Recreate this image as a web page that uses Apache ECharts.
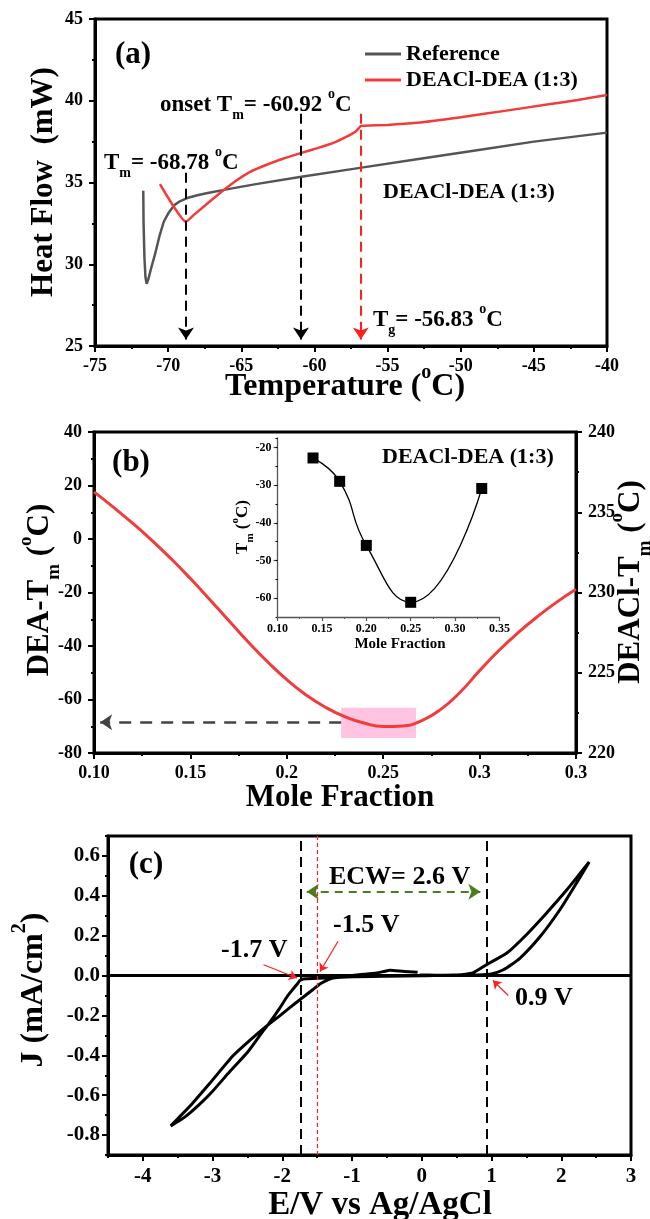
<!DOCTYPE html>
<html>
<head>
<meta charset="utf-8">
<script src="https://cdn.jsdelivr.net/npm/echarts@6/dist/echarts.min.js"></script>
<style>html,body{margin:0;padding:0;background:#fff}#main{width:650px;height:1219px}</style>
</head>
<body>
<div id="main"></div>
<script>
// (a) DSC 曲线
var refT  = [-71.70, -71.68, -71.62, -71.55, -71.47, -71.35, -71.15, -70.9, -70.6, -70.3, -70.0, -69.6, -69.2, -68.7, -68.0, -67.3, -66.0, -64.0, -61.0, -57.0, -53.0, -49.0, -45.0, -40.0];
var refHF = [34.5, 32.5, 30.4, 29.2, 28.8, 29.1, 29.8, 30.6, 31.7, 32.6, 33.1, 33.6, 33.85, 34.05, 34.22, 34.36, 34.58, 34.9, 35.33, 35.88, 36.42, 36.96, 37.5, 38.05];
var mixT  = [-70.56, -68.78, -68.2, -67.4, -66.5, -65.5, -64.4, -63.4, -62.3, -61.0, -59.8, -58.7, -57.8, -57.2, -56.83, -56.6, -55.0, -53.0, -50.0, -47.0, -44.0, -42.0, -40.0];
var mixHF = [34.9, 32.6, 33.05, 33.65, 34.33, 35.02, 35.65, 36.04, 36.41, 36.78, 37.1, 37.42, 37.8, 38.1, 38.45, 38.47, 38.52, 38.65, 38.99, 39.38, 39.78, 40.05, 40.35];
var aMarks = [-68.78, -60.92, -56.83];

// (b) 相图
var bX = [0.10, 0.11, 0.12, 0.13, 0.14, 0.15, 0.16, 0.17, 0.18, 0.19, 0.20, 0.21, 0.22, 0.23, 0.24, 0.25, 0.26, 0.27, 0.28, 0.29, 0.30, 0.31, 0.32, 0.33, 0.34, 0.35];
var bY = [17.6, 11.9, 5.9, -0.5, -7.4, -14.8, -22.6, -30.6, -38.5, -45.9, -52.6, -58.3, -62.9, -66.4, -68.8, -70.1, -69.9, -67.9, -63.6, -57.2, -49.2, -41.7, -35.0, -29.0, -23.6, -18.8];
var bXLabels = ['0.10', '0.15', '0.2', '0.25', '0.3', '0.3'];
var insX = [0.14, 0.17, 0.20, 0.25, 0.33];
var insY = [-22.8, -29.0, -46.0, -61.1, -30.9];

// (c) CV 曲线
var cvE = [-0.06, -0.25, -0.456, -0.55, -0.647, -0.9, -1.1, -1.27, -1.5, -1.70, -1.75, -1.78, -1.84, -1.93, -2.05, -2.18, -2.28, -2.5, -2.75, -3.0, -3.2, -3.4, -3.6,
           -3.45, -3.3, -3.04, -2.70, -2.45, -2.25, -2.03, -1.8, -1.56, -1.45, -1.34, -1.27, -1.0, -0.5, 0.0, 0.45, 0.7, 0.98, 1.17, 1.41, 1.70, 1.98, 2.22, 2.40,
           2.08, 1.79, 1.50, 1.22, 0.93, 0.74, 0.6, 0.45, 0.2, -0.03];
var cvJ = [0.017, 0.02, 0.027, 0.02, 0.013, 0.004, -0.004, -0.010, -0.014, -0.017, -0.025, -0.04, -0.065, -0.105, -0.17, -0.235, -0.28, -0.385, -0.48, -0.58, -0.65, -0.71, -0.754,
           -0.70, -0.645, -0.54, -0.40, -0.32, -0.26, -0.20, -0.135, -0.07, -0.04, -0.02, -0.012, -0.006, -0.003, -0.001, 0.003, 0.003, 0.007, 0.029, 0.088, 0.197, 0.33, 0.465, 0.57,
           0.43, 0.314, 0.205, 0.113, 0.055, 0.015, 0.006, 0.003, 0.002, 0.003];
var cXTicks = [-4, -3, -2, -1, 0, 1, 2, 3];
var cYTicks = [-0.8, -0.6, -0.4, -0.2, 0, 0.2, 0.4, 0.6];
var cMarks = [-1.74, -1.5, 0.93];

var FONT = '"Liberation Serif", "Times New Roman", serif';
var RED = '#f23b3b';

function zip(a, b) {
  return a.map(function (v, i) { return [v, b[i]]; });
}

// 公共坐标轴样式
function axis(o) {
  var base = {
    type: 'value',
    splitLine: { show: false },
    axisLine: { show: true, onZero: false, lineStyle: { color: '#000', width: 3 } },
    axisTick: { show: true, inside: false, length: 6, lineStyle: { color: '#000', width: 2 } },
    minorTick: { show: true, splitNumber: 2, length: 3, lineStyle: { color: '#000', width: 2 } },
    axisLabel: { color: '#000', fontFamily: FONT, fontWeight: 'bold', fontSize: 18, margin: 11 }
  };
  for (var k in o) {
    if (typeof o[k] === 'object' && base[k] && !Array.isArray(o[k])) {
      base[k] = Object.assign({}, base[k], o[k]);
    } else {
      base[k] = o[k];
    }
  }
  return base;
}

function rich(s) {
  var small = Math.round(s * 0.62);
  return {
    n: { fontFamily: FONT, fontWeight: 'bold', fontSize: s, lineHeight: Math.round(s * 1.5), fill: '#000' },
    sub: { fontFamily: FONT, fontWeight: 'bold', fontSize: small, verticalAlign: 'bottom', lineHeight: small, fill: '#000' },
    sup: { fontFamily: FONT, fontWeight: 'bold', fontSize: small, verticalAlign: 'top', lineHeight: small, fill: '#000' }
  };
}
function txt(x, y, text, size, rot, align) {
  return {
    type: 'text', x: x, y: y, rotation: rot || 0, z: 100,
    style: { text: text, rich: rich(size), align: align || 'left', verticalAlign: 'middle',
      fontFamily: FONT, fontWeight: 'bold', fontSize: size, fill: '#000' }
  };
}

function arrowLine(p1, p2, color, width, dash, size) {
  return [
    { coord: p1, symbol: 'none', lineStyle: { color: color, width: width, type: dash } },
    { coord: p2, symbol: 'arrow', symbolSize: size }
  ];
}

var chart = echarts.init(document.getElementById('main'));
var option = {
  backgroundColor: '#fff',
  animation: false,
  grid: [
    { left: 95, top: 19, width: 512, height: 327, show: true, borderColor: '#000', borderWidth: 3 },
    { left: 94, top: 432, width: 482, height: 321, show: true, borderColor: '#000', borderWidth: 3 },
    { left: 277.5, top: 438, width: 222, height: 179 },
    { left: 108, top: 836, width: 523, height: 319, show: true, borderColor: '#000', borderWidth: 3 }
  ],
  legend: {
    data: ['Reference', 'DEACl-DEA (1:3)'],
    orient: 'vertical', left: 360, top: 38, itemWidth: 36, itemHeight: 3, itemGap: 4, icon: 'rect',
    textStyle: { fontFamily: FONT, fontWeight: 'bold', fontSize: 22, color: '#000' }
  },
  xAxis: [
    axis({ gridIndex: 0, min: -75, max: -40, interval: 5 }),
    axis({ gridIndex: 1, min: 0.10, max: 0.35, interval: 0.05,
      axisLabel: { formatter: function (v) { return bXLabels[Math.round((v - 0.1) / 0.05)]; } } }),
    axis({ gridIndex: 2, min: 0.10, max: 0.35, interval: 0.05,
      axisLine: { lineStyle: { width: 1.3 } }, axisTick: { length: 4, lineStyle: { width: 1.2 } },
      minorTick: { length: 2, lineStyle: { width: 1 } },
      axisLabel: { fontSize: 12, margin: 6, formatter: function (v) { return v.toFixed(2); } } }),
    axis({ gridIndex: 3, min: -4.5, max: 3, minorTick: { show: false },
      axisTick: { customValues: cXTicks }, axisLabel: { customValues: cXTicks, fontSize: 21 } }),
    axis({ gridIndex: 3, position: 'bottom', min: -4.5, max: 3, interval: 0.5, minorTick: { show: false },
      axisLine: { show: false }, axisLabel: { show: false }, axisTick: { length: 3 } })
  ],
  yAxis: [
    axis({ gridIndex: 0, min: 25, max: 45, interval: 5, axisLabel: { margin: 12 } }),
    axis({ gridIndex: 1, position: 'left', min: -80, max: 40, interval: 20, axisLabel: { margin: 12 } }),
    axis({ gridIndex: 1, position: 'right', min: 220, max: 240, interval: 5, axisLabel: { margin: 12 } }),
    axis({ gridIndex: 2, position: 'left', min: -65, max: -17.5, minorTick: { show: false },
      axisLine: { lineStyle: { width: 1.3 } }, axisTick: { length: 4, lineStyle: { width: 1.2 }, customValues: [-60, -50, -40, -30, -20] },
      axisLabel: { fontSize: 12, margin: 6, customValues: [-60, -50, -40, -30, -20] } }),
    axis({ gridIndex: 2, position: 'left', min: -65, max: -17.5, interval: 5, minorTick: { show: false },
      axisLine: { show: false }, axisLabel: { show: false }, axisTick: { length: 2, lineStyle: { width: 1 } } }),
    axis({ gridIndex: 3, position: 'left', min: -0.9, max: 0.7, minorTick: { show: false },
      axisTick: { customValues: cYTicks },
      axisLabel: { customValues: cYTicks, fontSize: 21, margin: 8, formatter: function (v) { return v.toFixed(1); } } }),
    axis({ gridIndex: 3, position: 'left', min: -0.9, max: 0.7, interval: 0.1, minorTick: { show: false },
      axisLine: { show: false }, axisLabel: { show: false }, axisTick: { length: 3 } })
  ],
  series: [
    {
      name: 'Reference', type: 'line', xAxisIndex: 0, yAxisIndex: 0, data: zip(refT, refHF),
      showSymbol: false, smooth: false,
      lineStyle: { color: '#555', width: 2.5 }, itemStyle: { color: '#555' }
    },
    {
      name: 'DEACl-DEA (1:3)', type: 'line', xAxisIndex: 0, yAxisIndex: 0, data: zip(mixT, mixHF),
      showSymbol: false, smooth: 0.15,
      lineStyle: { color: RED, width: 2.5 }, itemStyle: { color: RED },
      markLine: {
        silent: true, animation: false, label: { show: false },
        data: [
          arrowLine([aMarks[0], 35.6], [aMarks[0], 25.4], '#000', 2, [10, 6], 12),
          arrowLine([aMarks[1], 39.2], [aMarks[1], 25.4], '#000', 2, [10, 6], 12),
          arrowLine([aMarks[2], 39.2], [aMarks[2], 25.4], '#ff1f1f', 2, [10, 6], 12)
        ]
      }
    },
    {
      name: 'b', type: 'line', xAxisIndex: 1, yAxisIndex: 1, data: zip(bX, bY),
      showSymbol: false, smooth: 0.5,
      lineStyle: { color: RED, width: 3 }, itemStyle: { color: RED },
      markArea: {
        silent: true,
        itemStyle: { color: 'rgba(255,190,222,0.9)' },
        data: [[{ coord: [0.2282, -63.1] }, { coord: [0.267, -74.4] }]]
      },
      markLine: {
        silent: true, animation: false, label: { show: false },
        data: [arrowLine([0.2282, -68.5], [0.1032, -68.5], '#444', 2.5, [12, 9], 12)]
      }
    },
    {
      name: 'inset', type: 'line', xAxisIndex: 2, yAxisIndex: 3, data: zip(insX, insY),
      smooth: 0.5, symbol: 'rect', symbolSize: 11,
      lineStyle: { color: '#000', width: 1.3 }, itemStyle: { color: '#000' }
    },
    {
      name: 'cv', type: 'line', xAxisIndex: 3, yAxisIndex: 5, data: zip(cvE, cvJ),
      showSymbol: false, smooth: 0.2,
      lineStyle: { color: '#000', width: 3 }, itemStyle: { color: '#000' },
      markLine: {
        silent: true, animation: false, label: { show: false }, symbol: ['none', 'none'],
        data: [
          { yAxis: 0, lineStyle: { color: '#000', width: 3, type: 'solid' } },
          { xAxis: cMarks[0], lineStyle: { color: '#000', width: 2, type: [10, 6] } },
          { xAxis: cMarks[2], lineStyle: { color: '#000', width: 2, type: [10, 6] } },
          { xAxis: cMarks[1], lineStyle: { color: '#ff2020', width: 1.2, type: [4, 3] } },
          [
            { coord: [cMarks[0] + 0.09, 0.42], symbol: 'arrow', symbolSize: 12, lineStyle: { color: '#4b7d1e', width: 2, type: [8, 6] } },
            { coord: [cMarks[2] - 0.09, 0.42], symbol: 'arrow', symbolSize: 12 }
          ],
          arrowLine([-2.27, 0.054], [-1.79, -0.012], '#ff2020', 1.2, 'solid', 8),
          arrowLine([-1.20, 0.172], [-1.46, 0.02], '#ff2020', 1.2, 'solid', 8),
          arrowLine([1.24, -0.10], [1.02, -0.025], '#ff2020', 1.2, 'solid', 8)
        ]
      }
    }
  ],
  graphic: [
    // (a)
    txt(133, 55, '{n|(a)}', 31, 0, 'center'),
    txt(160, 105, '{n|onset T}{sub|m}{n|= -60.92 }{sup|o}{n|C}', 23),
    txt(104, 163, '{n|T}{sub|m}{n|= -68.78 }{sup|o}{n|C}', 23),
    txt(383, 192, '{n|DEACl-DEA (1:3)}', 22),
    txt(373, 320, '{n|T}{sub|g}{n|= -56.83 }{sup|o}{n|C}', 23),
    txt(44, 182, '{n|Heat Flow  (mW)}', 31, Math.PI / 2, 'center'),
    txt(345, 387, '{n|Temperature (}{sup|o}{n|C)}', 32, 0, 'center'),
    // (b)
    txt(131, 463, '{n|(b)}', 31, 0, 'center'),
    txt(382, 457, '{n|DEACl-DEA (1:3)}', 22),
    txt(243, 527, '{n|T}{sub|m}{n| (}{sup|o}{n|C)}', 17, Math.PI / 2, 'center'),
    txt(400, 644, '{n|Mole Fraction}', 15, 0, 'center'),
    txt(40, 590, '{n|DEA-T}{sub|m}{n| (}{sup|o}{n|C)}', 31, Math.PI / 2, 'center'),
    txt(631, 582, '{n|DEACl-T}{sub|m}{n| (}{sup|o}{n|C)}', 31, Math.PI / 2, 'center'),
    txt(340, 798, '{n|Mole Fraction}', 31, 0, 'center'),
    // (c)
    txt(146, 865, '{n|(c)}', 31, 0, 'center'),
    txt(329, 877, '{n|ECW= 2.6 V}', 26),
    txt(333, 925, '{n|-1.5 V}', 26),
    txt(221, 950, '{n|-1.7 V}', 26),
    txt(515, 998, '{n|0.9 V}', 26),
    txt(34, 990, '{n|J (mA/cm}{sup|2}{n|)}', 32, Math.PI / 2, 'center'),
    txt(380, 1205, '{n|E/V vs Ag/AgCl}', 33, 0, 'center')
  ]
};
chart.setOption(option);
</script>
</body>
</html>
